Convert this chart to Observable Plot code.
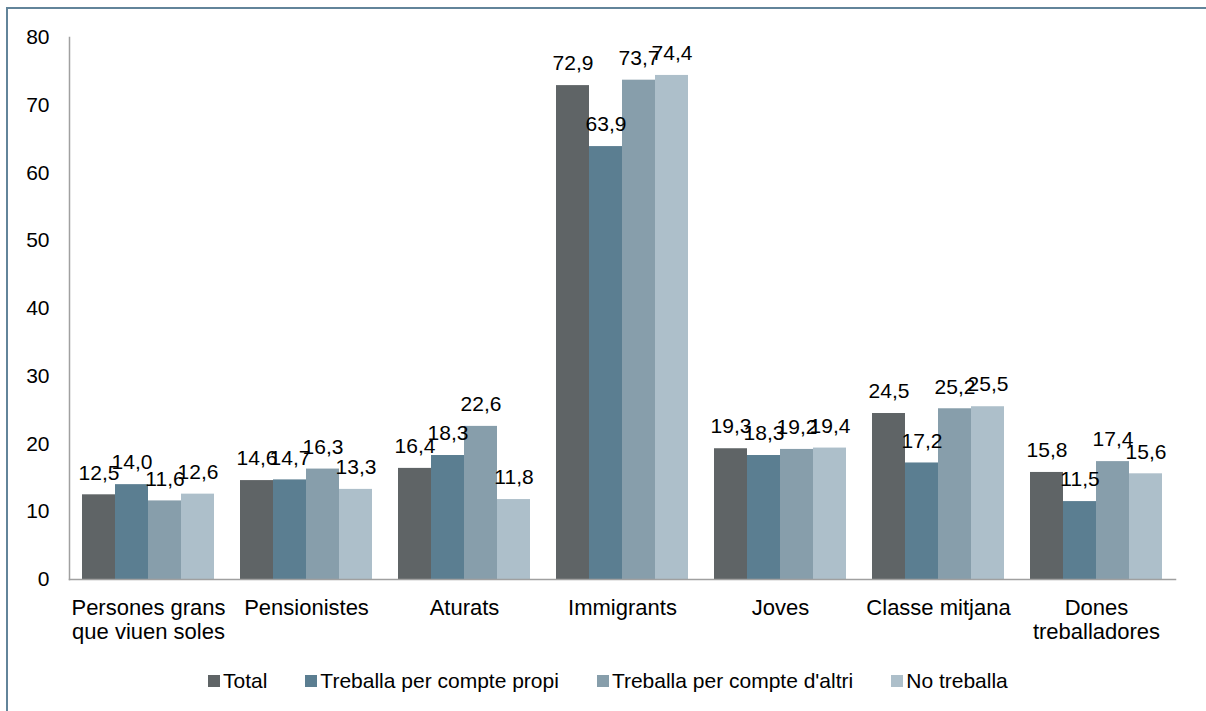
<!DOCTYPE html>
<html><head><meta charset="utf-8">
<script src="https://cdn.jsdelivr.net/npm/d3@7"></script>
<script src="https://cdn.jsdelivr.net/npm/@observablehq/plot@0.6"></script>
<style>
body{margin:0;background:#fff;font-family:"Liberation Sans",Arial,sans-serif;}
#wrap{position:relative;width:1206px;height:711px;overflow:hidden;background:#fff;}
#chart{position:absolute;left:0;top:0;}
#border{position:absolute;left:6px;top:7px;width:1300px;height:800px;border-top:2px solid #62849a;border-left:2px solid #62849a;pointer-events:none;}
#legend{position:absolute;top:668px;left:208px;height:26px;display:flex;align-items:center;font-size:21px;color:#000;white-space:nowrap;}
.item{display:flex;align-items:center;margin-right:38px;}
.sw{width:12px;height:12px;margin-right:3px;}
</style></head>
<body><div id="wrap"><div id="chart"></div><div id="legend"></div><div id="border"></div></div>
<script>
const categories = ["Persones grans que viuen soles","Pensionistes","Aturats","Immigrants","Joves","Classe mitjana","Dones treballadores"];
const categoryLabels = ["Persones grans\nque viuen soles","Pensionistes","Aturats","Immigrants","Joves","Classe mitjana","Dones\ntreballadores"];
const series = ["Total","Treballa per compte propi","Treballa per compte d'altri","No treballa"];
const totalValues = [12.5,14.6,16.4,72.9,19.3,24.5,15.8];
const propiValues = [14.0,14.7,18.3,63.9,18.3,17.2,11.5];
const altriValues = [11.6,16.3,22.6,73.7,19.2,25.2,17.4];
const noTreballaValues = [12.6,13.3,11.8,74.4,19.4,25.5,15.6];
const colors = ["#5f6466","#5b7e91","#879eab","#adbfca"];
const yTicks = [0,10,20,30,40,50,60,70,80];

const valuesBySeries = [totalValues, propiValues, altriValues, noTreballaValues];
const data = categories.flatMap((c,i)=>series.map((s,j)=>({cat:c, s, v:valuesBySeries[j][i]})));
const labelOf = new Map(categories.map((c,i)=>[c, categoryLabels[i]]));
const fmt = v => v.toFixed(1).replace(".", ",");
const font = "'Liberation Sans', Arial, sans-serif";

const chart = Plot.plot({
  width:1206, height:660,
  marginLeft:66, marginRight:28, marginTop:37, marginBottom:81,
  style:{fontFamily:font, fontSize:"21px", color:"#000", background:"transparent"},
  fx:{domain:categories, padding:0, label:null},
  x:{domain:series, paddingInner:0, paddingOuter:0.38, axis:null},
  y:{domain:[0,80], label:null},
  color:{domain:series, range:colors},
  marks:[
    Plot.barY(data,{fx:"cat", x:"s", y:"v", fill:"s"}),
    Plot.frame({anchor:"left", facet:"super", stroke:"#a0a0a0", strokeWidth:1.5}),
    Plot.frame({anchor:"bottom", facet:"super", stroke:"#a0a0a0", strokeWidth:1.5}),
    Plot.text(data,{fx:"cat", x:"s", y:"v", text:d=>fmt(d.v), dy:-22, lineAnchor:"middle", fontSize:21, fill:"#000", fontFamily:font}),
    Plot.axisY({ticks:yTicks, tickSize:0, tickPadding:20, fontSize:21, label:null, tickFormat:d=>String(d), fill:"#000"}),
    Plot.axisFx({anchor:"bottom", tickSize:0, tickPadding:19, fontSize:22, label:null, tickFormat:c=>labelOf.get(c), lineHeight:1.08, fill:"#000"})
  ]
});
document.getElementById("chart").appendChild(chart);

const legend = document.getElementById("legend");
series.forEach((s,i)=>{
  const item = document.createElement("div"); item.className="item";
  const sw = document.createElement("div"); sw.className="sw"; sw.style.background=colors[i];
  const t = document.createElement("span"); t.textContent=s;
  item.appendChild(sw); item.appendChild(t); legend.appendChild(item);
});
</script>
</body></html>
